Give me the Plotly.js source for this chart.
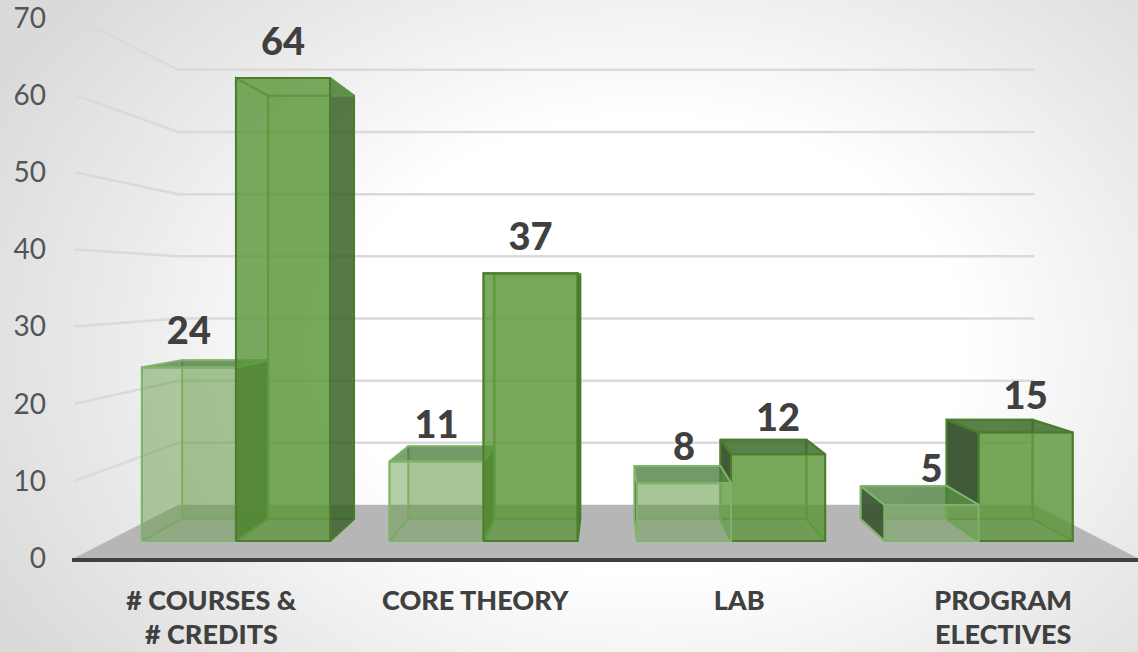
<!DOCTYPE html>
<html>
<head>
<meta charset="utf-8">
<script src="https://cdn.plot.ly/plotly-3.0.1.min.js"></script>
<style>
  html, body { margin: 0; padding: 0; width: 1138px; height: 652px; overflow: hidden; }
  body { background: radial-gradient(ellipse 740px 540px at 650px 345px, #ffffff 42%, #ebebeb 72%, #dadada 100%); }
  #chart { width: 1138px; height: 652px; }
</style>
</head>
<body>
<div id="chart"></div>
<script>
// Chart values
const firstLines = ['# COURSES &', 'CORE THEORY', 'LAB', 'PROGRAM'];
const secondLines = ['# CREDITS', '', '', 'ELECTIVES'];
const seriesA = [24, 11, 8, 5];
const seriesB = [64, 37, 12, 15];
const axisTicks = [0, 10, 20, 30, 40, 50, 60, 70];

// Perspective set-up, in axis units: depth 0 is the plane of the value axis,
// and every deeper point slides toward the vanishing point.
const VANISH = { x: 1.503, y: 35.39 };
const BAR_WIDTH = 0.38, BAR_NEAR = 0.062, BAR_FAR = 0.143, WALL_DEPTH = 0.194;
const FLOOR_LEFT = -0.517, FLOOR_RIGHT = 3.507;
const LABEL_LIFT = 1.8;

const project = (x, v, d) => [VANISH.x + (x - VANISH.x) * (1 - d), VANISH.y + (v - VANISH.y) * (1 - d)];

function polygon(points, name, fill, line, width) {
  const pts = points.map(p => project(p[0], p[1], p[2]));
  pts.push(pts[0]);
  return {
    type: 'scatter', mode: 'lines', name, showlegend: false, hoverinfo: 'skip',
    x: pts.map(p => p[0]), y: pts.map(p => p[1]),
    fill: fill ? 'toself' : 'none', fillcolor: fill || 'rgba(0,0,0,0)',
    line: { color: line, width, simplify: false }
  };
}

function segment(points, name, color, width) {
  const pts = points.map(p => project(p[0], p[1], p[2]));
  return {
    type: 'scatter', mode: 'lines', name, showlegend: false, hoverinfo: 'skip',
    x: pts.map(p => p[0]), y: pts.map(p => p[1]), line: { color, width }
  };
}

const paletteA = {
  face: 'rgba(95,153,65,0.33)', floor: 'rgba(95,153,65,0.12)', inner: 'rgba(95,153,65,0.20)',
  outerSide: 'rgba(58,82,50,0.90)', outerTop: 'rgba(30,85,15,0.50)',
  edge: '#7fb46b', innerEdge: 'rgba(127,180,107,0.55)'
};
const paletteB = {
  face: 'rgba(94,151,58,0.60)', floor: 'rgba(70,130,45,0.35)', inner: 'rgba(80,140,45,0.50)',
  outerSide: 'rgba(38,75,23,0.60)', outerLeft: 'rgba(60,85,52,0.95)', outerTop: 'rgba(50,90,35,0.62)',
  edge: '#4c7d2e', innerEdge: '#5f9a42'
};

// One box of six faces. `hiddenBelow` is the height up to which the left face
// is shared with the neighbouring bar and so is left out.
function barFaces(x0, x1, v, pal, name, hiddenBelow) {
  const n = BAR_NEAR, f = BAR_FAR, low = hiddenBelow || 0;
  const leftOut = x0 > VANISH.x, rightOut = x1 < VANISH.x, topOut = v < VANISH.y;
  return [
    polygon([[x0, 0, f], [x1, 0, f], [x1, v, f], [x0, v, f]], name + ' back', pal.face, pal.innerEdge, 2),
    polygon([[x0, 0, n], [x1, 0, n], [x1, 0, f], [x0, 0, f]], name + ' base', pal.floor, pal.innerEdge, 2),
    polygon([[x0, low, n], [x0, v, n], [x0, v, f], [x0, low, f]], name + ' left',
      leftOut ? (pal.outerLeft || pal.outerSide) : pal.inner, leftOut ? pal.edge : pal.innerEdge, 2),
    polygon([[x1, 0, n], [x1, v, n], [x1, v, f], [x1, 0, f]], name + ' right',
      rightOut ? pal.outerSide : pal.inner, rightOut ? pal.edge : pal.innerEdge, 2),
    polygon([[x0, v, n], [x1, v, n], [x1, v, f], [x0, v, f]], name + ' top',
      topOut ? pal.outerTop : pal.inner, topOut ? pal.edge : pal.innerEdge, 2),
    polygon([[x0, 0, n], [x1, 0, n], [x1, v, n], [x0, v, n]], name + ' front', pal.face, pal.edge, 2)
  ];
}

const traces = [];

// Walls and floor
axisTicks.slice(1).forEach(t => {
  traces.push(segment([[FLOOR_LEFT, t, 0], [FLOOR_LEFT, t, WALL_DEPTH], [FLOOR_RIGHT, t, WALL_DEPTH]], 'grid ' + t, '#dadada', 2.5));
});
traces.push(polygon(
  [[FLOOR_LEFT, 0, 0], [FLOOR_RIGHT, 0, 0], [FLOOR_RIGHT, 0, WALL_DEPTH], [FLOOR_LEFT, 0, WALL_DEPTH]],
  'floor', '#b6b6b6', '#b6b6b6', 0.5));

// Bars, painted far side first so the nearer one overlaps correctly
seriesA.forEach((a, i) => {
  const b = seriesB[i];
  const rightOfCentre = i >= VANISH.x;
  const groupA = barFaces(i - BAR_WIDTH, i, a, paletteA, firstLines[i] + ' A', 0);
  const groupB = barFaces(i, i + BAR_WIDTH, b, paletteB, firstLines[i] + ' B', rightOfCentre ? Math.min(a, b) : 0);
  if (rightOfCentre) traces.push(...groupB, ...groupA);
  else traces.push(...groupA, ...groupB);
});

// Value labels above each front face
function valueLabels(values, start) {
  const pts = values.map((v, i) => project(i + start * BAR_WIDTH, v, BAR_NEAR));
  return {
    type: 'scatter', mode: 'text', showlegend: false, hoverinfo: 'skip',
    x: pts.map(p => p[0]), y: pts.map(p => p[1] + LABEL_LIFT),
    text: values.map(String), textposition: 'top center',
    textfont: { family: 'Lato, sans-serif', size: 38, color: '#404040', weight: 900 },
    cliponaxis: false
  };
}
traces.push(valueLabels(seriesA, -0.5), valueLabels(seriesB, 0.5));

const categoryFont = { family: 'Lato, sans-serif', size: 27, color: '#404040', weight: 900 };

const layout = {
  width: 1138, height: 652,
  margin: { l: 72, r: 0, t: 18, b: 94 },
  paper_bgcolor: 'rgba(0,0,0,0)', plot_bgcolor: 'rgba(0,0,0,0)',
  showlegend: false,
  xaxis: {
    range: [-0.528, 3.511], showgrid: false, zeroline: false, fixedrange: true,
    showline: true, linecolor: '#404040', linewidth: 3.5,
    tickmode: 'array', tickvals: firstLines.map((_, i) => i), ticktext: firstLines,
    ticks: '', tickangle: 0, ticklabelstandoff: 16, ticklabeloverflow: 'allow',
    tickfont: categoryFont
  },
  yaxis: {
    range: [0, 70], showgrid: false, zeroline: false, fixedrange: true, showline: false,
    tickmode: 'array', tickvals: axisTicks, ticktext: axisTicks.map(String),
    ticks: '', ticklabelstandoff: 25, ticklabeloverflow: 'allow',
    tickfont: { family: 'Lato, sans-serif', size: 28, color: '#555555' }
  },
  annotations: secondLines.map((t, i) => ({
    text: t, x: i, xref: 'x', y: (652 - 94 - 633) / (652 - 18 - 94), yref: 'paper',
    yanchor: 'middle', xanchor: 'center', showarrow: false, font: categoryFont
  })).filter(a => a.text)
};

Plotly.newPlot('chart', traces, layout, { displayModeBar: false, responsive: false });
</script>
</body>
</html>
